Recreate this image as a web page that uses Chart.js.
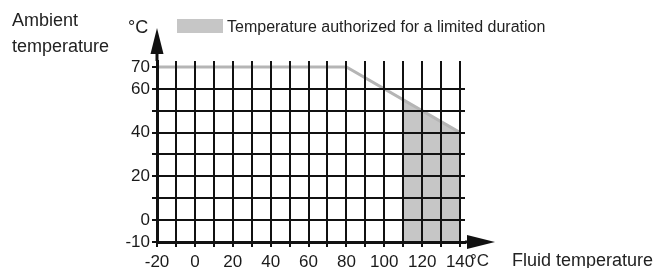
<!DOCTYPE html>
<html>
<head>
<meta charset="utf-8">
<script src="https://cdn.jsdelivr.net/npm/chart.js@4"></script>
<style>
  body { margin: 0; background: #fff; }
</style>
</head>
<body>
<canvas id="chart" width="661" height="268"></canvas>
<script>
// max ambient temperature against fluid temperature
var fluidTemp = [-20, 80, 140];
var ambientMax = [70, 70, 40];
// zone only allowed for a limited time
var limitedTemp = [110, 140];
var limitedAmbient = [55, 40];

var xGrid = [-20, -10, 0, 10, 20, 30, 40, 50, 60, 70, 80, 90, 100, 110, 120, 130, 140];
var xLabels = [-20, 0, 20, 40, 60, 80, 100, 120, 140];
var yGrid = [-10, 0, 10, 20, 30, 40, 50, 60, 70];
var yLabels = [-10, 0, 20, 40, 60, 70];

var FONT = "'Liberation Sans', Arial, sans-serif";
Chart.defaults.font.family = FONT;
Chart.defaults.color = '#1a1a1a';

function pts(xs, ys) {
    return xs.map(function (x, i) { return { x: x, y: ys[i] }; });
}

var extras = {
    id: 'extras',
    afterDraw: function (chart) {
        var ctx = chart.ctx;
        var area = chart.chartArea;
        var xs = chart.scales.x, ys = chart.scales.y;
        var x0 = xs.getPixelForValue(-20);
        var y0 = ys.getPixelForValue(-10);
        ctx.save();
        ctx.fillStyle = '#111';
        ctx.strokeStyle = '#111';
        ctx.lineWidth = 3;
        // y axis arrow
        ctx.beginPath();
        ctx.moveTo(x0, area.top);
        ctx.lineTo(x0, 50);
        ctx.stroke();
        ctx.beginPath();
        ctx.moveTo(x0, 28);
        ctx.lineTo(x0 - 6.5, 54);
        ctx.lineTo(x0 + 6.5, 54);
        ctx.closePath();
        ctx.fill();
        // x axis arrow
        ctx.beginPath();
        ctx.moveTo(area.right, y0);
        ctx.lineTo(470, y0);
        ctx.stroke();
        ctx.beginPath();
        ctx.moveTo(495, y0);
        ctx.lineTo(467, y0 - 7);
        ctx.lineTo(467, y0 + 7);
        ctx.closePath();
        ctx.fill();

        // texts
        ctx.fillStyle = '#222';
        ctx.textBaseline = 'alphabetic';
        ctx.textAlign = 'left';
        ctx.font = '18px ' + FONT;
        ctx.fillText('Ambient', 12, 26);
        ctx.fillText('temperature', 12, 52);
        ctx.fillText('°C', 128, 33);
        ctx.fillText('Fluid temperature', 512, 266);
        ctx.font = '17px ' + FONT;
        ctx.fillText('°C', 470, 266);

        // legend
        var ds = chart.data.datasets[1];
        ctx.fillStyle = ds.backgroundColor;
        ctx.fillRect(177, 19, 46, 14);
        ctx.fillStyle = '#222';
        ctx.font = '16px ' + FONT;
        ctx.fillText(ds.label, 227, 32);
        ctx.restore();
    }
};

new Chart(document.getElementById('chart'), {
    type: 'line',
    data: {
        datasets: [{
            label: 'Max ambient temperature',
            data: pts(fluidTemp, ambientMax),
            borderColor: '#b5b5b5',
            borderWidth: 3,
            pointRadius: 0,
            fill: false
        }, {
            label: 'Temperature authorized for a limited duration',
            data: pts(limitedTemp, limitedAmbient),
            borderWidth: 0,
            borderColor: 'rgba(0,0,0,0)',
            backgroundColor: '#c6c6c6',
            pointRadius: 0,
            fill: 'start'
        }]
    },
    options: {
        responsive: false,
        animation: false,
        layout: { padding: { left: 0, top: 61, right: 196, bottom: 0 } },
        plugins: {
            legend: { display: false },
            tooltip: { enabled: false }
        },
        scales: {
            x: {
                type: 'linear',
                min: -20,
                max: 142.6,
                afterBuildTicks: function (s) { s.ticks = xGrid.map(function (v) { return { value: v }; }); },
                afterFit: function (s) { s.height = 26; },
                ticks: {
                    padding: 5,
                    font: { size: 17 },
                    maxRotation: 0,
                    autoSkip: false,
                    z: 1,
                    callback: function (v) { return xLabels.indexOf(v) >= 0 ? String(v) : ''; }
                },
                grid: { color: '#111', lineWidth: 2, tickLength: 5, tickColor: '#111', z: 1 },
                border: { color: '#111', width: 3, z: 1 }
            },
            y: {
                type: 'linear',
                min: -10,
                max: 72.74,
                afterBuildTicks: function (s) { s.ticks = yGrid.map(function (v) { return { value: v }; }); },
                afterFit: function (s) { s.width = 157; },
                ticks: {
                    padding: 2,
                    font: { size: 17 },
                    autoSkip: false,
                    z: 1,
                    callback: function (v) { return yLabels.indexOf(v) >= 0 ? String(v) : ''; }
                },
                grid: {
                    color: function (c) { return c.tick && c.tick.value === 70 ? 'rgba(0,0,0,0)' : '#111'; },
                    tickColor: '#111',
                    lineWidth: 2,
                    tickLength: 5,
                    z: 1
                },
                border: { color: '#111', width: 3, z: 1 }
            }
        }
    },
    plugins: [extras]
});
</script>
</body>
</html>
